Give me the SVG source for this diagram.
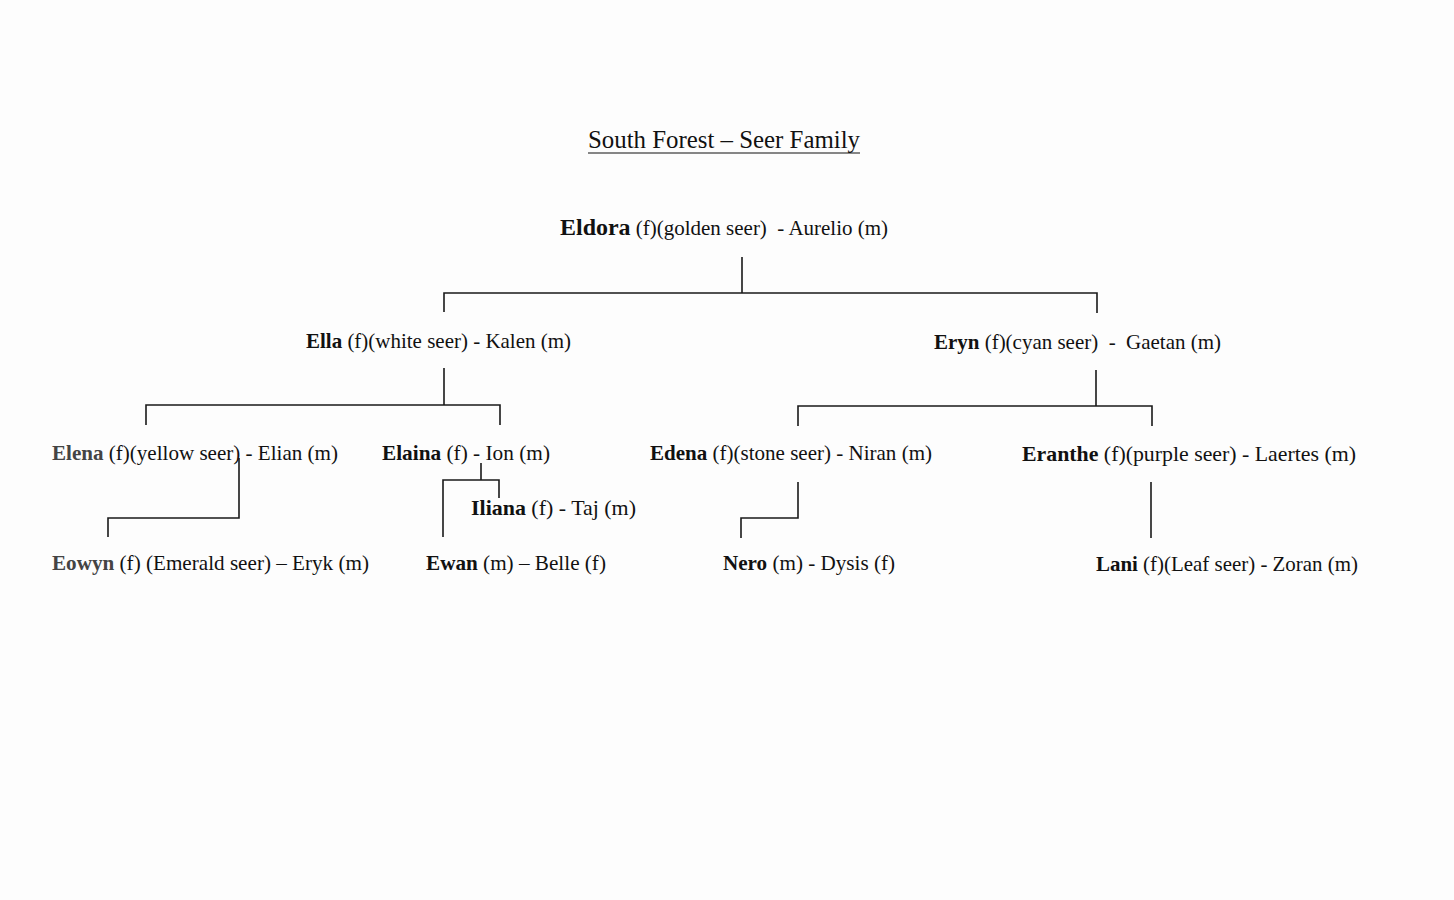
<svg xmlns="http://www.w3.org/2000/svg" width="1454" height="900" viewBox="0 0 1454 900">
<style>
text{font-family:"Liberation Serif","Times New Roman",serif;font-size:21px;fill:#111;white-space:pre}
.b{font-weight:bold}
.g{fill:#444}
.big{font-size:24px}
.ln{stroke:#1a1a1a;stroke-width:1.6;fill:none}
</style>
<rect width="1454" height="900" fill="#fdfdfd"/>
<g id="title">
<text x="588" y="148" style="font-size:25px" textLength="272" lengthAdjust="spacingAndGlyphs">South Forest – Seer Family</text>
<line x1="588" y1="153" x2="860" y2="153" stroke="#111" stroke-width="1.2"/>
</g>
<g id="connectors">
<path class="ln" d="M742,257V293M444,312V293H1097V313"/>
<path class="ln" d="M444,368V405M146,425V405H500V425"/>
<path class="ln" d="M1096,370V406M798,426V406H1152V426"/>
<path class="ln" d="M239,458V518H108V537"/>
<path class="ln" d="M481,463V480M443,537V480H499V498"/>
<path class="ln" d="M798,482V518H741V538"/>
<path class="ln" d="M1151,482V538"/>
</g>
<g id="eldora"><text x="560" y="235" textLength="328" lengthAdjust="spacingAndGlyphs"><tspan class="b big">Eldora</tspan> (f)(golden seer)  - Aurelio (m)</text></g>
<g id="ella"><text x="306" y="348" textLength="265" lengthAdjust="spacingAndGlyphs"><tspan class="b">Ella</tspan> (f)(white seer) - Kalen (m)</text></g>
<g id="eryn"><text x="934" y="349" textLength="287" lengthAdjust="spacingAndGlyphs"><tspan class="b">Eryn</tspan> (f)(cyan seer)  -  Gaetan (m)</text></g>
<g id="elena"><text x="52" y="460" textLength="286" lengthAdjust="spacingAndGlyphs"><tspan class="b g">Elena</tspan> (f)(yellow seer) - Elian (m)</text></g>
<g id="elaina"><text x="382" y="460" textLength="168" lengthAdjust="spacingAndGlyphs"><tspan class="b">Elaina</tspan> (f) - Ion (m)</text></g>
<g id="iliana"><text x="471" y="515" textLength="165" lengthAdjust="spacingAndGlyphs"><tspan class="b">Iliana</tspan> (f) - Taj (m)</text></g>
<g id="edena"><text x="650" y="460" textLength="282" lengthAdjust="spacingAndGlyphs"><tspan class="b">Edena</tspan> (f)(stone seer) - Niran (m)</text></g>
<g id="eranthe"><text x="1022" y="461" textLength="334" lengthAdjust="spacingAndGlyphs"><tspan class="b">Eranthe</tspan> (f)(purple seer) - Laertes (m)</text></g>
<g id="eowyn"><text x="52" y="570" textLength="317" lengthAdjust="spacingAndGlyphs"><tspan class="b g">Eowyn</tspan> (f) (Emerald seer) – Eryk (m)</text></g>
<g id="ewan"><text x="426" y="570" textLength="180" lengthAdjust="spacingAndGlyphs"><tspan class="b">Ewan</tspan> (m) – Belle (f)</text></g>
<g id="nero"><text x="723" y="570" textLength="172" lengthAdjust="spacingAndGlyphs"><tspan class="b">Nero</tspan> (m) - Dysis (f)</text></g>
<g id="lani"><text x="1096" y="571" textLength="262" lengthAdjust="spacingAndGlyphs"><tspan class="b">Lani</tspan> (f)(Leaf seer) - Zoran (m)</text></g>
</svg>
